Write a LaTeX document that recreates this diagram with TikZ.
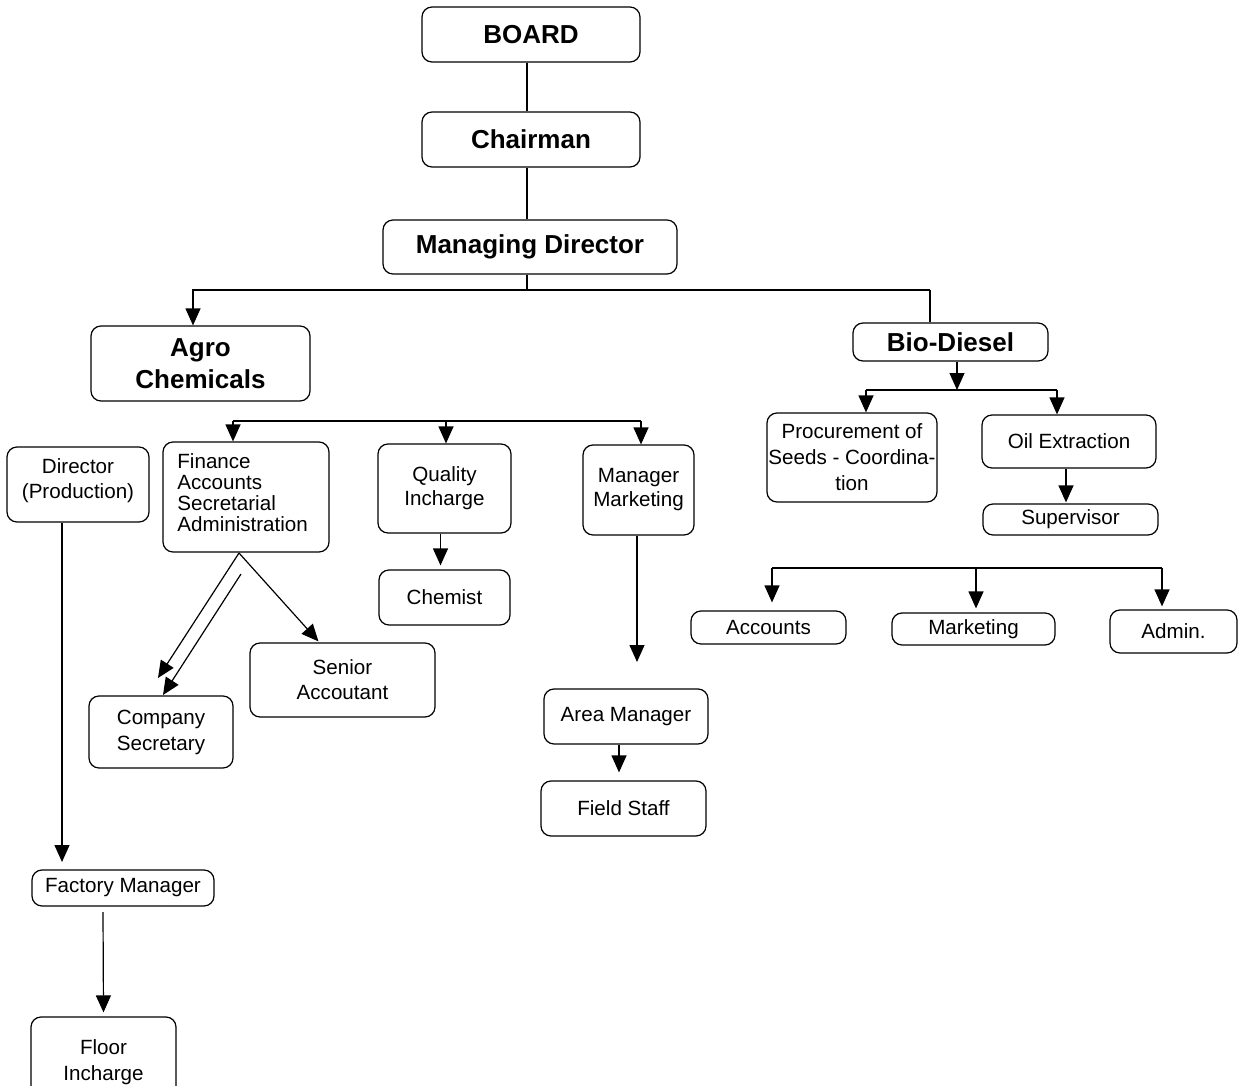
\documentclass[tikz,border=0pt]{standalone}
\usepackage{fontspec}
\setmainfont{Liberation Sans}
\usetikzlibrary{arrows.meta,calc}
\tikzset{
  wh/.style 2 args={minimum width=#1*0.5pt,minimum height=#2*0.5pt},
  box/.style={draw,rounded corners=5pt,line width=0.6pt,inner sep=0pt,align=center,font=\fontsize{10.3}{12}\selectfont},
  bbox/.style={box,font=\fontsize{13}{16}\bfseries},
  conn/.style={line width=0.6pt},
  arr/.style={conn,-{Triangle[length=8.5pt,width=7.5pt]}}
}
\begin{document}
\begin{tikzpicture}[x=0.5pt,y=-0.5pt]
\clip (0,0) rectangle (1238,1086);
\fill[white] (0,0) rectangle (1238,1086);
% top chain
\node[bbox,wh={218}{55}] (board) at (531,34.5) {BOARD};
\node[bbox,wh={218}{55}] (chair) at (531,139.5) {Chairman};
\node[bbox,wh={294}{54}] (md) at (530,247) {Managing Director};
\node[bbox,wh={219}{75}] (agro) at (200.5,363.5) {Agro\\Chemicals};
\node[bbox,wh={195}{38}] (bio) at (950.5,342) {Bio-Diesel};
% agro subtree
\node[box,wh={142}{75}] (dir) at (78,484.5) {};
\node[align=center,inner sep=0pt,font=\fontsize{10.3}{12.5}\selectfont] (dirtext) at (78,480.5) {Director\\(Production)};
\node[box,wh={166}{110},font=\fontsize{10.3}{10.5}\selectfont] (fin) at (246,497) {};
\node[align=left,inner sep=0pt,font=\fontsize{10.3}{10.5}\selectfont,anchor=west] (fintext) at (177,493) {Finance\\Accounts\\Secretarial\\Administration};
\node[box,wh={133}{89}] (qual) at (444.5,488.5) {Quality\\Incharge};
\node[box,wh={131}{55}] (chem) at (444.5,597.5) {Chemist};
\node[box,wh={111}{90}] (mm) at (638.5,490) {Manager\\Marketing};
\node[box,wh={164}{55}] (area) at (626,716.5) {Area Manager};
\node[box,wh={165}{55}] (field) at (623.5,808.5) {Field Staff};
\node[box,wh={144}{72},font=\fontsize{10.3}{13}\selectfont] (cs) at (161,732) {Company\\Secretary};
\node[box,wh={185}{74},font=\fontsize{10.3}{12.5}\selectfont] (sa) at (342.5,680) {Senior\\Accoutant};
\node[box,wh={182}{36}] (fm) at (123,888) {Factory Manager};
\node[box,wh={145}{90},font=\fontsize{10.3}{13}\selectfont] (floor) at (103.5,1062) {Floor\\Incharge};
% bio subtree
\node[box,wh={170}{89},font=\fontsize{10.3}{13}\selectfont] (proc) at (852,457.5) {Procurement of\\Seeds - Coordina-\\tion};
\node[box,wh={174}{53}] (oil) at (1069,441.5) {Oil Extraction};
\node[box,wh={175}{31}] (sup) at (1070.5,519.5) {Supervisor};
\node[box,wh={155}{33}] (acc) at (768.5,627.5) {Accounts};
\node[box,wh={163}{32}] (mkt) at (973.5,629) {Marketing};
\node[box,wh={127}{43}] (adm) at (1173.5,631.5) {Admin.};
% coordinates
\coordinate (barL) at (193,290);
\coordinate (barR) at (930,290);
\coordinate (abarL) at (233,421);
\coordinate (abarQ) at (446,421);
\coordinate (abarR) at (641,421);
\coordinate (mmEnd) at (637,662);
\coordinate (dirEnd) at (62,862);
\coordinate (fmOut) at (103,912);
\coordinate (finApex) at (239,553);
\coordinate (csIn) at (241,574);
\coordinate (csTipA) at (158,678);
\coordinate (csTipB) at (163,695);
\coordinate (bbar) at (957,390);
\coordinate (bbarL) at (866,390);
\coordinate (bbarR) at (1057,390);
\coordinate (lbarL) at (772,568);
\coordinate (lbarM) at (976,568);
\coordinate (lbarR) at (1162,568);
% top connectors
\draw[conn] ($(board.south)+(-4,0)$) -- ($(chair.north)+(-4,0)$);
\draw[conn] ($(chair.south)+(-4,0)$) -- ($(md.north)+(-3,0)$);
\draw[conn] ($(md.south)+(-3,0)$) -- ($(md.south |- barL)+(-3,0)$);
\draw[arr] (barR) -- (barL) -- (barL |- agro.north);
\draw[conn] (barR) -- (barR |- bio.north);
% agro connectors
\draw[conn] (abarL) -- (abarR);
\draw[arr] (abarL) -- (abarL |- fin.north);
\draw[arr] (abarQ) -- (abarQ |- qual.north);
\draw[arr] (abarR) -- (abarR |- mm.north);
\draw[arr] ($(qual.south)+(-4,0)$) -- ($(chem.north)+(-4,-4)$);
\draw[arr] (mm.south -| mmEnd) -- (mmEnd);
\draw[arr] ($(area.south)+(-7,0)$) -- ($(field.north)+(-4.5,-8)$);
\draw[arr] (dir.south -| dirEnd) -- (dirEnd);
\draw[arr] (fmOut) -- ($(floor.north)+(0,-4)$);
\draw[arr] (finApex) -- ($(sa.north)+(-24,-1)$);
\draw[arr] (finApex) -- (csTipA);
\draw[arr] (csIn) -- (csTipB);
% bio connectors
\draw[arr] (bio.south -| bbar) -- (bbar);
\draw[conn] (bbarL) -- (bbarR);
\draw[arr] (bbarL) -- (bbarL |- proc.north);
\draw[arr] (bbarR) -- (bbarR |- oil.north);
\draw[arr] ($(oil.south)+(-3,0)$) -- ($(sup.north)+(-4.5,-1)$);
\draw[conn] (lbarL) -- (lbarR);
\draw[arr] (lbarL) -- ($(lbarL |- acc.north)+(0,-8)$);
\draw[arr] (lbarM) -- ($(lbarM |- mkt.north)+(0,-4)$);
\draw[arr] (lbarR) -- ($(lbarR |- adm.north)+(0,-3)$);
\end{tikzpicture}
\end{document}
